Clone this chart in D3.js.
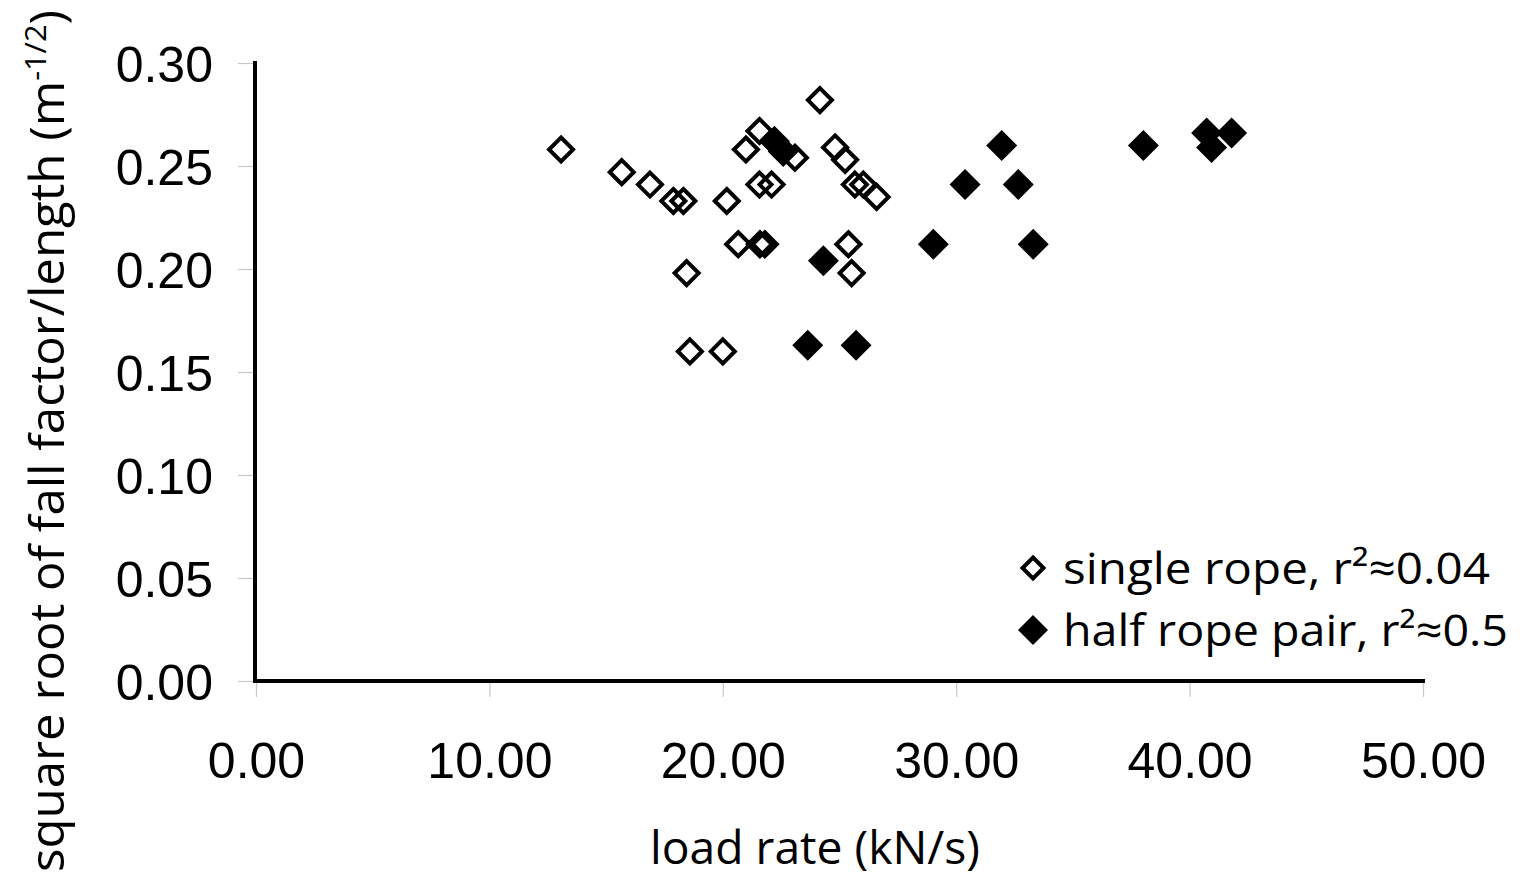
<!DOCTYPE html>
<html>
<head>
<meta charset="utf-8">
<script src="https://cdn.jsdelivr.net/npm/d3@7"></script>
<style>
  html, body { margin: 0; padding: 0; background: #fff; }
  svg { display: block; }
</style>
</head>
<body>
<svg id="chart" width="1525" height="878"></svg>
<script>
// ---- data ----
const xTicks = [0, 10, 20, 30, 40, 50];
const yTicks = [0, 0.05, 0.10, 0.15, 0.20, 0.25, 0.30];

const singleX = [13.07, 15.67, 16.88, 17.88, 18.31, 20.17, 21.57, 20.99, 23.09, 24.16, 24.81, 25.24,
                 21.57, 22.09, 25.66, 26.02, 26.59, 20.66, 21.59, 21.80, 25.38, 25.52, 18.45, 18.59, 20.00];
const singleY = [0.258, 0.247, 0.241, 0.233, 0.233, 0.233, 0.267, 0.258, 0.254, 0.282, 0.259, 0.253,
                 0.241, 0.241, 0.241, 0.241, 0.235, 0.212, 0.212, 0.212, 0.212, 0.198, 0.198, 0.160, 0.160];

const halfX = [22.21, 22.59, 24.31, 23.64, 25.71, 31.95, 30.38, 32.66, 29.02, 33.30, 38.02, 40.73, 40.94, 41.80];
const halfY = [0.262, 0.257, 0.204, 0.163, 0.163, 0.260, 0.241, 0.241, 0.212, 0.212, 0.260, 0.266, 0.259, 0.266];

const xLabel = "load rate (kN/s)";
const yLabelMain = "square root of fall factor/length (m";
const yLabelSup = "-1/2";
const legendLabels = ["single rope, r\u00B2\u22480.04", "half rope pair, r\u00B2\u22480.5"];

// ---- layout ----
const svg = d3.select("#chart");
const x = d3.scaleLinear().domain([0, 50]).range([256, 1423]);
const y = d3.scaleLinear().domain([0, 0.30]).range([681, 63]);

const tickColor = "#c8c8c8";
const numFont = "'Liberation Sans', Arial, sans-serif";
const textFont = "'Open Sans', 'Noto Sans', sans-serif";

// y axis
const yAxis = svg.append("g")
  .attr("transform", `translate(${x(0)},0)`)
  .call(d3.axisLeft(y).tickValues(yTicks).tickSize(18).tickPadding(25).tickFormat(d3.format(".2f")));
yAxis.select(".domain").remove();
yAxis.selectAll(".tick line").attr("stroke", tickColor).attr("stroke-width", 1.2);
yAxis.selectAll(".tick text").attr("font-family", numFont).attr("font-size", 50)
  .attr("fill", "#000").attr("dy", "0.37em");

// x axis
const xAxis = svg.append("g")
  .attr("transform", `translate(0,${y(0)})`)
  .call(d3.axisBottom(x).tickValues(xTicks).tickSize(16).tickPadding(45).tickFormat(d3.format(".2f")));
xAxis.select(".domain").remove();
xAxis.selectAll(".tick line").attr("stroke", tickColor).attr("stroke-width", 1.2);
xAxis.selectAll(".tick text").attr("font-family", numFont).attr("font-size", 50)
  .attr("fill", "#000");

// axis lines (thick black)
svg.append("line").attr("x1", x(0) - 1).attr("x2", x(0) - 1).attr("y1", y(0.30) - 2).attr("y2", y(0) + 2)
  .attr("stroke", "#000").attr("stroke-width", 4);
svg.append("line").attr("x1", x(0) - 3).attr("x2", x(50) + 2).attr("y1", y(0)).attr("y2", y(0))
  .attr("stroke", "#000").attr("stroke-width", 4);

// diamond path helper
function diamond(h) { return `M0,${-h}L${h},0L0,${h}L${-h},0Z`; }

// open diamonds: single rope
svg.append("g").selectAll("path")
  .data(d3.range(singleX.length))
  .join("path")
  .attr("d", diamond(12))
  .attr("transform", i => `translate(${x(singleX[i])},${y(singleY[i])})`)
  .attr("fill", "#fff").attr("fill-opacity", 0)
  .attr("stroke", "#000").attr("stroke-width", 4).attr("stroke-linejoin", "miter");

// filled diamonds: half rope pair
svg.append("g").selectAll("path")
  .data(d3.range(halfX.length))
  .join("path")
  .attr("d", diamond(15.5))
  .attr("transform", i => `translate(${x(halfX[i])},${y(halfY[i])})`)
  .attr("fill", "#000");

// legend
const legY = [568, 630];
const legTextW = [427, 445];
legendLabels.forEach((lab, i) => {
  const g = svg.append("g");
  if (i === 0) {
    g.append("path").attr("d", diamond(10.5)).attr("transform", `translate(1033,${legY[i]})`)
      .attr("fill", "none").attr("stroke", "#000").attr("stroke-width", 4);
  } else {
    g.append("path").attr("d", diamond(15)).attr("transform", `translate(1033,${legY[i]})`)
      .attr("fill", "#000");
  }
  g.append("text").attr("x", 1063).attr("y", legY[i] + 16)
    .attr("font-family", textFont).attr("font-size", 44).attr("fill", "#000")
    .attr("textLength", legTextW[i]).attr("lengthAdjust", "spacingAndGlyphs")
    .text(lab);
});

// x label
svg.append("text").attr("x", 650).attr("y", 864)
  .attr("font-family", textFont).attr("font-size", 45).attr("fill", "#000")
  .attr("textLength", 330).attr("lengthAdjust", "spacingAndGlyphs")
  .text(xLabel);

// y label (rotated), scaled to fit the measured span
const yl = svg.append("text")
  .attr("font-family", textFont).attr("font-size", 48).attr("fill", "#000")
  .attr("text-anchor", "middle");
yl.append("tspan").text(yLabelMain);
yl.append("tspan").attr("font-size", 30).attr("dy", -18).text(yLabelSup);
yl.append("tspan").attr("dy", 18).text(")");
const len = yl.node().getComputedTextLength();
const target = 862;
yl.attr("transform", `translate(64,${(874 + 8) / 2}) rotate(-90) scale(${target / len},1)`);
</script>
</body>
</html>
